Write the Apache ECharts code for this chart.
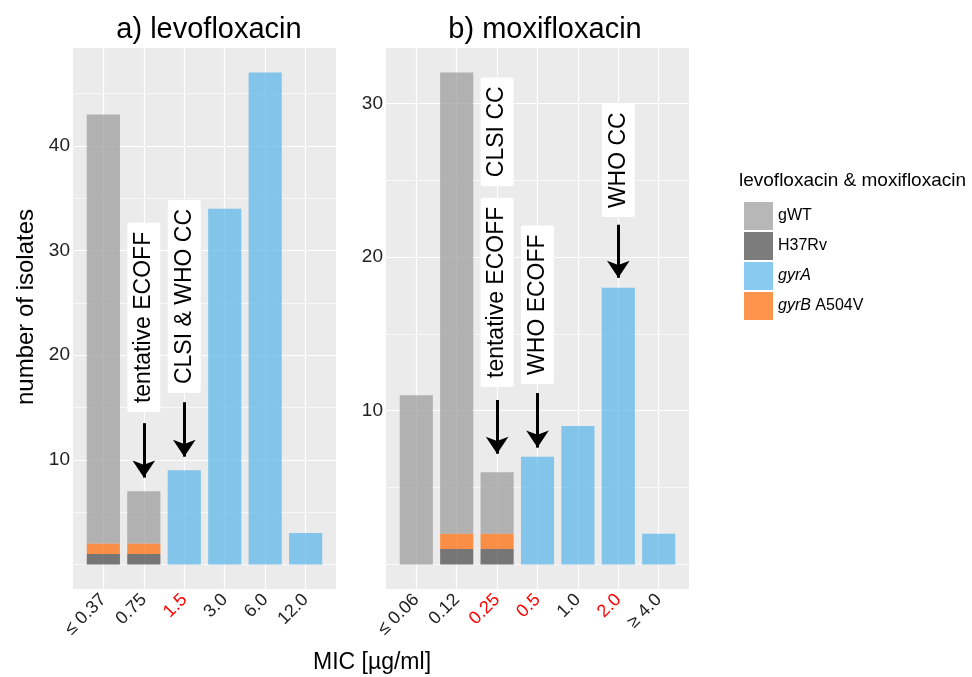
<!DOCTYPE html>
<html>
<head>
<meta charset="utf-8">
<script src="https://cdn.jsdelivr.net/npm/echarts@6/dist/echarts.min.js"></script>
<style>
  html, body { margin: 0; padding: 0; background: #fff; }
  #chart { width: 972px; height: 677px; }
</style>
</head>
<body>
<div id="chart"></div>
<script>
// panel a) levofloxacin
const catsA = ['≤ 0.37', '0.75', '1.5', '3.0', '6.0', '12.0']
const redA = ['1.5']
const h37rvA = [1, 1, 0, 0, 0, 0]
const gyrBA = [1, 1, 0, 0, 0, 0]
const gwtA = [41, 5, 0, 0, 0, 0]
const gyrAA = [0, 0, 9, 34, 47, 3]

// panel b) moxifloxacin
const catsB = ['≤ 0.06', '0.12', '0.25', '0.5', '1.0', '2.0', '≥ 4.0']
const redB = ['0.25', '0.5', '2.0']
const h37rvB = [0, 1, 1, 0, 0, 0, 0]
const gyrBB = [0, 1, 1, 0, 0, 0, 0]
const gwtB = [11, 30, 4, 0, 0, 0, 0]
const gyrAB = [0, 0, 0, 7, 9, 18, 2]

// annotations: text, category position, label centre, arrow start, arrow tip
const notesA = ['tentative ECOFF', 'CLSI & WHO CC']
const notesAx = [2, 3]
const notesAy = [23.6, 25.6]
const arrowsAfrom = [13.5, 15.5]
const arrowsAto = [8.3, 10.3]

const notesB = ['CLSI CC', 'tentative ECOFF', 'WHO ECOFF', 'WHO CC']
const notesBx = [3, 3, 4, 6]
const notesBy = [28.15, 17.7, 16.9, 26.3]
const arrowsBx = [3, 4, 6]
const arrowsBfrom = [10.7, 11.15, 22.1]
const arrowsBto = [7.2, 7.6, 18.65]

const yMajorA = [10, 20, 30, 40]
const yMinorA = [0, 5, 15, 25, 35, 45]
const yMajorB = [10, 20, 30]
const yMinorB = [0, 5, 15, 25]

const FONT = 'Liberation Sans, Arial, sans-serif'
const colors = {
  'gWT': 'rgba(153,153,153,0.7)',
  'H37Rv': 'rgba(68,68,68,0.7)',
  'gyrA': 'rgba(86,180,233,0.7)',
  'gyrB A504V': 'rgba(255,102,0,0.7)'
}

function renderBar(params, api) {
  const x = api.value(0)
  const lo = api.coord([x, api.value(1)])
  const hi = api.coord([x, api.value(2)])
  const bw = api.size([0.82, 0])[0]
  return {
    type: 'rect',
    shape: { x: lo[0] - bw / 2, y: hi[1], width: bw, height: lo[1] - hi[1] },
    style: api.style()
  }
}

function panelSeries(idx, layers) {
  const base = layers[0][1].map(() => 0)
  const out = []
  layers.forEach(l => {
    const name = l[0]
    const vals = l[1]
    const data = []
    vals.forEach((v, i) => {
      if (v > 0) {
        data.push([i + 1, base[i], base[i] + v])
        base[i] += v
      }
    })
    out.push({
      type: 'custom',
      name: name,
      xAxisIndex: idx,
      yAxisIndex: idx * 2,
      renderItem: renderBar,
      encode: { x: 0, y: [1, 2] },
      itemStyle: { color: colors[name] },
      data: data
    })
  })
  return out
}

function annotSeries(idx, names, xs, ys, ax, afrom, ato) {
  return {
    type: 'scatter',
    xAxisIndex: idx,
    yAxisIndex: idx * 2,
    data: [],
    silent: true,
    markPoint: {
      symbol: 'rect',
      symbolSize: 1,
      itemStyle: { color: 'rgba(0,0,0,0)' },
      label: {
        show: true,
        position: 'inside',
        rotate: 90,
        formatter: '{b}',
        backgroundColor: '#fff',
        padding: [5, 9],
        borderRadius: 2,
        fontSize: 23,
        fontFamily: FONT,
        color: '#000'
      },
      data: names.map((n, i) => ({ name: n, coord: [xs[i], ys[i]] }))
    },
    markLine: {
      silent: true,
      symbol: ['none', 'arrow'],
      symbolSize: 17,
      label: { show: false },
      lineStyle: { color: '#000', width: 3, type: 'solid' },
      data: ax.map((x, i) => [{ coord: [x, afrom[i]] }, { coord: [x, ato[i]] }])
    }
  }
}

function xAxisFor(idx, cats, reds) {
  const ticks = cats.map((c, i) => i + 1)
  return {
    type: 'value',
    gridIndex: idx,
    min: 0.25,
    max: cats.length + 0.75,
    axisLine: { show: false },
    axisTick: { show: false, customValues: ticks },
    axisLabel: {
      customValues: ticks,
      rotate: 45,
      margin: 8,
      fontSize: 18,
      fontFamily: FONT,
      formatter: v => cats[Math.round(v) - 1],
      color: v => reds.includes(cats[Math.round(Number(v)) - 1]) ? '#FF0000' : '#222'
    },
    splitLine: { show: true, lineStyle: { color: '#fff', width: 1.2 } }
  }
}

function yAxesFor(idx, max, major, minor) {
  const min = -0.05 * max
  const top = 1.05 * max
  return [{
    type: 'value',
    gridIndex: idx,
    min: min,
    max: top,
    axisLine: { show: false },
    axisTick: { show: false, customValues: major },
    axisLabel: { customValues: major, fontSize: 19, fontFamily: FONT, color: '#222', margin: 3 },
    splitLine: { show: true, lineStyle: { color: '#fff', width: 1.2 } }
  }, {
    type: 'value',
    gridIndex: idx,
    min: min,
    max: top,
    position: 'left',
    axisLine: { show: false },
    axisTick: { show: false, customValues: minor },
    axisLabel: { show: false },
    splitLine: { show: true, lineStyle: { color: '#fff', width: 0.6 } }
  }]
}

const chart = echarts.init(document.getElementById('chart'))

const option = {
  animation: false,
  backgroundColor: '#fff',
  textStyle: { fontFamily: FONT },
  grid: [
    { left: 73, right: 636, top: 48, bottom: 88, show: true, backgroundColor: '#EBEBEB', borderWidth: 0, outerBoundsMode: 'none' },
    { left: 386, right: 283, top: 48, bottom: 88, show: true, backgroundColor: '#EBEBEB', borderWidth: 0, outerBoundsMode: 'none' }
  ],
  xAxis: [xAxisFor(0, catsA, redA), xAxisFor(1, catsB, redB)],
  yAxis: yAxesFor(0, 47, yMajorA, yMinorA).concat(yAxesFor(1, 32, yMajorB, yMinorB)),
  legend: {
    data: ['gWT', 'H37Rv', 'gyrA', 'gyrB A504V'],
    orient: 'vertical',
    left: 739,
    top: 197,
    itemWidth: 29,
    itemHeight: 28,
    itemGap: 2,
    icon: 'rect',
    selectedMode: false,
    formatter: name => {
      if (name === 'gyrA') return '{i|gyrA}'
      if (name === 'gyrB A504V') return '{i|gyrB} A504V'
      return name
    },
    textStyle: {
      fontSize: 16,
      fontFamily: FONT,
      color: '#000',
      rich: { i: { fontStyle: 'italic', fontSize: 16, fontFamily: FONT, color: '#000' } }
    }
  },
  graphic: [
    { type: 'text', x: 209, y: 30, style: { text: 'a) levofloxacin', font: '29px ' + FONT, fill: '#000', textAlign: 'center', textVerticalAlign: 'middle' } },
    { type: 'text', x: 545, y: 30, style: { text: 'b) moxifloxacin', font: '29px ' + FONT, fill: '#000', textAlign: 'center', textVerticalAlign: 'middle' } },
    { type: 'text', x: 26, y: 307, rotation: Math.PI / 2, style: { text: 'number of isolates', font: '24px ' + FONT, fill: '#000', textAlign: 'center', textVerticalAlign: 'middle' } },
    { type: 'text', x: 372, y: 663, style: { text: 'MIC [µg/ml]', font: '23px ' + FONT, fill: '#000', textAlign: 'center', textVerticalAlign: 'middle' } },
    { type: 'text', x: 739, y: 181, style: { text: 'levofloxacin & moxifloxacin', font: '19px ' + FONT, fill: '#000', textAlign: 'left', textVerticalAlign: 'middle' } }
  ],
  series: panelSeries(0, [['H37Rv', h37rvA], ['gyrB A504V', gyrBA], ['gWT', gwtA], ['gyrA', gyrAA]])
    .concat(panelSeries(1, [['H37Rv', h37rvB], ['gyrB A504V', gyrBB], ['gWT', gwtB], ['gyrA', gyrAB]]))
    .concat([
      annotSeries(0, notesA, notesAx, notesAy, notesAx, arrowsAfrom, arrowsAto),
      annotSeries(1, notesB, notesBx, notesBy, arrowsBx, arrowsBfrom, arrowsBto)
    ])
}

chart.setOption(option)
</script>
</body>
</html>
